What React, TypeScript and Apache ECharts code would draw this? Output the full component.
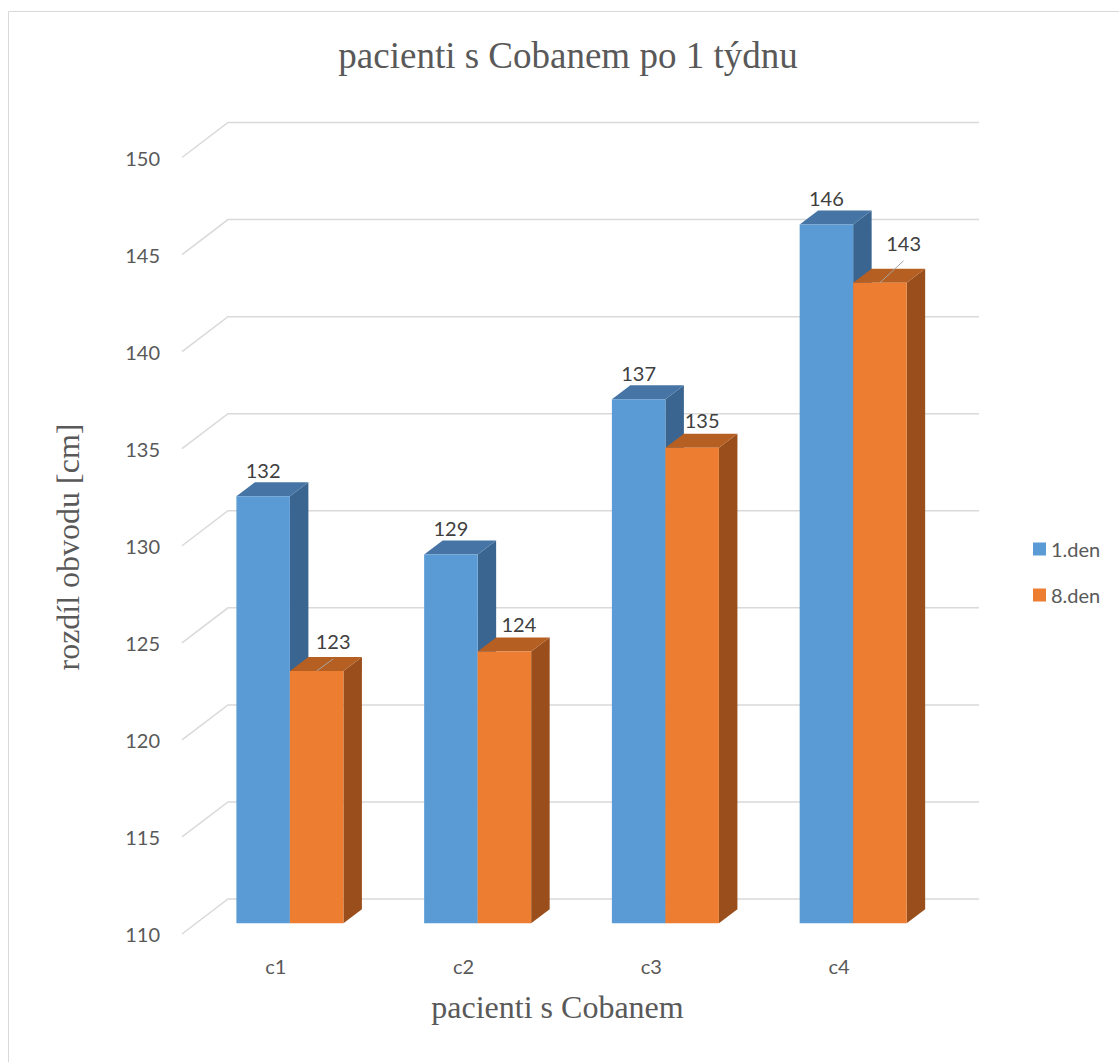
import React, { useEffect, useRef } from 'react';
import * as echarts from 'echarts';

// ---- data ----
const categories = ['c1', 'c2', 'c3', 'c4'];
const seriesNames = ['1.den', '8.den'];
const den1Values = [132, 129, 137, 146];
const den8Values = [123, 124, 134.5, 143];
const yTicks = [110, 115, 120, 125, 130, 135, 140, 145, 150];
const chartTitle = 'pacienti s Cobanem po 1 týdnu';
const xTitle = 'pacienti s Cobanem';
const yTitle = 'rozdíl obvodu [cm]';

// ---- layout / style ----
const WALL = [46, -35];
const BAR_PLANE = 0.305;
const TOP_DEPTH = [18.5, -14];
const BAR_FRAC = 0.285;
const BLUE = { front: '#5B9BD5', top: '#4675A5', side: '#3A6590' };
const ORANGE = { front: '#ED7D31', top: '#B65F22', side: '#994E1C' };
const BLUE_LABEL_SHIFT = [0, -26, 0];
const ORANGE_LABEL_SHIFTS = [
  [16.5, -30, 1],
  [14.5, -27.5, 0],
  [10, -28, 0],
  [23.7, -40, 1],
];
const SANS = 'Lato';
const SERIF = '"Liberation Serif"';

function makeBarRenderer(pal: any, isLeft: boolean, shifts: (i: number) => number[]) {
  return (params: any, api: any) => {
    const idx = api.value(0);
    const val = api.value(1);
    const band = api.size([1, 0])[0];
    const c = api.coord([idx, val]);
    const base = api.coord([idx, yTicks[0]]);
    const ox = WALL[0] * BAR_PLANE;
    const oy = WALL[1] * BAR_PLANE;
    const w = band * BAR_FRAC;
    const x0 = c[0] + ox + (isLeft ? -w : 0);
    const x1 = x0 + w;
    const yT = c[1] + oy;
    const yB = base[1] + oy;
    const dx = TOP_DEPTH[0];
    const dy = TOP_DEPTH[1];
    const cx = (x0 + x1) / 2;
    const s = shifts(idx);
    const children: any[] = [
      {
        type: 'polygon',
        shape: { points: [[x1, yT], [x1 + dx, yT + dy], [x1 + dx, yB + dy], [x1, yB]] },
        style: { fill: pal.side },
      },
      {
        type: 'polygon',
        shape: { points: [[x0, yT], [x0 + dx, yT + dy], [x1 + dx, yT + dy], [x1, yT]] },
        style: { fill: pal.top },
      },
      {
        type: 'rect',
        shape: { x: x0, y: yT, width: w, height: yB - yT },
        style: { fill: pal.front },
      },
    ];
    if (s[2]) {
      children.push({
        type: 'line',
        shape: { x1: cx, y1: yT, x2: cx + s[0], y2: yT + s[1] + 18 },
        style: { stroke: '#A6A6A6', lineWidth: 1 },
      });
    }
    children.push({
      type: 'text',
      x: cx + s[0],
      y: yT + s[1],
      style: {
        text: String(Math.round(val)),
        fill: '#404040',
        fontSize: 20,
        fontFamily: SANS,
        align: 'center',
        verticalAlign: 'middle',
      },
    });
    return { type: 'group', children };
  };
}

function gridRenderer(params: any, api: any) {
  const y = api.coord([0, api.value(1)])[1];
  const cs = params.coordSys;
  const x0 = cs.x;
  return {
    type: 'polyline',
    shape: {
      points: [
        [x0, y],
        [x0 + WALL[0], y + WALL[1]],
        [x0 + cs.width + WALL[0], y + WALL[1]],
      ],
    },
    style: { stroke: '#D9D9D9', lineWidth: 1.5, fill: 'none' },
  };
}

export default function App() {
  const ref = useRef<HTMLDivElement>(null);
  useEffect(() => {
    if (!ref.current) return;
    const chart = echarts.init(ref.current, null, { renderer: 'svg' });
    chart.setOption({
      animation: false,
      backgroundColor: '#FFFFFF',
      title: {
        text: chartTitle,
        left: 568,
        textAlign: 'center',
        top: 37,
        padding: 0,
        textStyle: { fontFamily: SERIF, fontSize: 37, fontWeight: 'normal', color: '#595959' },
      },
      grid: { left: 182, top: 157.5, width: 751, height: 776.5 },
      legend: {
        orient: 'vertical',
        left: 1028,
        top: 534,
        itemWidth: 13,
        itemHeight: 13,
        itemGap: 26,
        icon: 'rect',
        data: seriesNames,
        textStyle: { fontFamily: SANS, fontSize: 20, color: '#595959' },
      },
      xAxis: {
        type: 'category',
        data: categories,
        axisLine: { show: false },
        axisTick: { show: false },
        axisLabel: { color: '#595959', fontFamily: SANS, fontSize: 20, margin: 22 },
        name: xTitle,
        nameLocation: 'middle',
        nameGap: 57,
        nameTextStyle: { fontFamily: SERIF, fontSize: 32, color: '#595959' },
      },
      yAxis: {
        type: 'value',
        min: yTicks[0],
        max: yTicks[yTicks.length - 1],
        interval: yTicks[1] - yTicks[0],
        axisLine: { show: false },
        axisTick: { show: false },
        splitLine: { show: false },
        axisLabel: { color: '#595959', fontFamily: SANS, fontSize: 20, margin: 22 },
      },
      graphic: [
        {
          type: 'rect',
          silent: true,
          z: -10,
          shape: { x: 8.5, y: 11.5, width: 1400, height: 1400 },
          style: { fill: 'none', stroke: '#D9D9D9', lineWidth: 1 },
        },
        {
          type: 'text',
          x: 68,
          y: 547,
          rotation: Math.PI / 2,
          style: {
            text: yTitle,
            fill: '#595959',
            fontSize: 32,
            fontFamily: SERIF,
            align: 'center',
            verticalAlign: 'middle',
          },
        },
      ],
      series: [
        {
          type: 'custom',
          name: 'grid',
          silent: true,
          z: 1,
          data: yTicks.map((v) => [0, v]),
          encode: { x: 0, y: 1 },
          renderItem: gridRenderer,
        },
        {
          type: 'custom',
          name: seriesNames[0],
          z: 2,
          itemStyle: { color: BLUE.front },
          data: den1Values.map((v, i) => [i, v]),
          encode: { x: 0, y: 1 },
          renderItem: makeBarRenderer(BLUE, true, () => BLUE_LABEL_SHIFT),
        },
        {
          type: 'custom',
          name: seriesNames[1],
          z: 3,
          itemStyle: { color: ORANGE.front },
          data: den8Values.map((v, i) => [i, v]),
          encode: { x: 0, y: 1 },
          renderItem: makeBarRenderer(ORANGE, false, (i) => ORANGE_LABEL_SHIFTS[i]),
        },
      ],
    });
    return () => chart.dispose();
  }, []);
  return (
    <div
      ref={ref}
      style={{ position: 'absolute', left: 0, top: 0, width: 1119, height: 1062 }}
    />
  );
}
